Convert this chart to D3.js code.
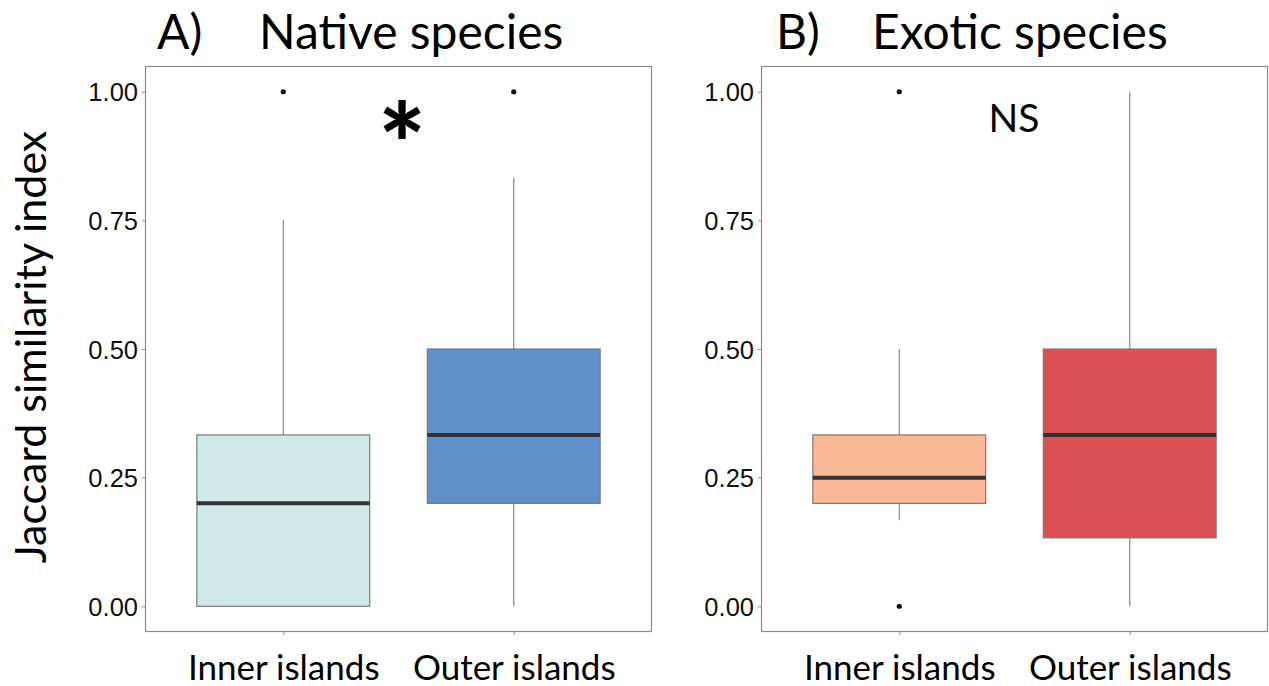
<!DOCTYPE html>
<html>
<head>
<meta charset="utf-8">
<script src="https://cdn.jsdelivr.net/npm/d3@7"></script>
<style>
  html, body { margin: 0; padding: 0; background: #fff; }
  svg { display: block; }
</style>
</head>
<body>
<svg id="chart" width="1269" height="686"></svg>
<script>
// ---- Data ----
const categories = ["Inner islands", "Outer islands"];
const yTicks = [0, 0.25, 0.5, 0.75, 1.0];
const yTickLabels = ["0.00", "0.25", "0.50", "0.75", "1.00"];

// Panel A: Native species
const nativeLowWhisker = [0, 0];
const nativeQ1 = [0, 0.2];
const nativeMedian = [0.2, 0.333];
const nativeQ3 = [0.333, 0.5];
const nativeHighWhisker = [0.75, 0.833];
const nativeOutliers = [[1.0], [1.0]];
const nativeColors = ["#d0e8e8", "#6090ca"];

// Panel B: Exotic species
const exoticLowWhisker = [0.167, 0];
const exoticQ1 = [0.2, 0.133];
const exoticMedian = [0.25, 0.333];
const exoticQ3 = [0.333, 0.5];
const exoticHighWhisker = [0.5, 1.0];
const exoticOutliers = [[0, 1.0], []];
const exoticColors = ["#fbb796", "#db5053"];

const panelLabels = ["A)", "B)"];
const panelTitles = ["Native species", "Exotic species"];
const annotations = ["*", "NS"];
const yTitle = "Jaccard similarity index";

// ---- Build ----
const svg = d3.select("#chart");
const plotTop = 66, plotBottom = 632;
const panels = [
  { left: 145, right: 652, lw: nativeLowWhisker, q1: nativeQ1, med: nativeMedian, q3: nativeQ3, hw: nativeHighWhisker, out: nativeOutliers, colors: nativeColors },
  { left: 761, right: 1268, lw: exoticLowWhisker, q1: exoticQ1, med: exoticMedian, q3: exoticQ3, hw: exoticHighWhisker, out: exoticOutliers, colors: exoticColors }
];

const y = d3.scaleLinear().domain([-0.05, 1.05]).range([plotBottom, plotTop]);
const txtFont = "Lato, 'Open Sans', sans-serif";
const tickFont = "'Liberation Sans', Arial, sans-serif";

panels.forEach((p, pi) => {
  const x = d3.scalePoint().domain(categories).range([p.left, p.right]).padding(0.6);
  const bw = x.step() * 0.75;
  const g = svg.append("g");

  g.append("rect").attr("x", p.left + 0.5).attr("y", plotTop + 0.5)
    .attr("width", p.right - p.left - 1).attr("height", plotBottom - plotTop - 1)
    .attr("fill", "#fff").attr("stroke", "#8a8a8a").attr("stroke-width", 1.2);

  const yAxis = d3.axisLeft(y).tickValues(yTicks).tickSize(3).tickPadding(4)
    .tickFormat((d, i) => yTickLabels[i]);
  const ya = g.append("g").attr("transform", `translate(${p.left},0)`).call(yAxis);
  ya.select(".domain").remove();
  ya.selectAll(".tick line").attr("stroke", "#8a8a8a");
  ya.selectAll(".tick text").attr("font-family", tickFont).attr("font-size", 25.5)
    .attr("fill", "#111").attr("dy", "0.36em");

  const xAxis = d3.axisBottom(x).tickSize(3).tickPadding(20);
  const xa = g.append("g").attr("transform", `translate(0,${plotBottom})`).call(xAxis);
  xa.select(".domain").remove();
  xa.selectAll(".tick line").attr("stroke", "#8a8a8a");
  xa.selectAll(".tick text").attr("font-family", txtFont).attr("font-size", 35)
    .attr("fill", "#000").attr("dy", "0.71em");

  categories.forEach((c, i) => {
    const cx = x(c);
    g.append("line").attr("x1", cx).attr("x2", cx)
      .attr("y1", y(p.q3[i])).attr("y2", y(p.hw[i]))
      .attr("stroke", "#8a8a8a").attr("stroke-width", 1.2);
    g.append("line").attr("x1", cx).attr("x2", cx)
      .attr("y1", y(p.q1[i])).attr("y2", y(p.lw[i]))
      .attr("stroke", "#8a8a8a").attr("stroke-width", 1.2);
    g.append("rect").attr("x", cx - bw / 2).attr("y", y(p.q3[i]))
      .attr("width", bw).attr("height", y(p.q1[i]) - y(p.q3[i]))
      .attr("fill", p.colors[i]).attr("stroke", "#7a7a7a").attr("stroke-width", 1.2);
    g.append("line").attr("x1", cx - bw / 2).attr("x2", cx + bw / 2)
      .attr("y1", y(p.med[i])).attr("y2", y(p.med[i]))
      .attr("stroke", "#333").attr("stroke-width", 4);
    p.out[i].forEach(v => {
      g.append("circle").attr("cx", cx).attr("cy", y(v)).attr("r", 2.6).attr("fill", "#111");
    });
  });

  svg.append("text").attr("x", p.left + 12 + pi * 3).attr("y", 49)
    .attr("font-family", txtFont).attr("font-size", 48).attr("fill", "#000")
    .text(panelLabels[pi]);
  svg.append("text").attr("x", p.left + 114 - pi * 3).attr("y", 49)
    .attr("font-family", txtFont).attr("font-size", 48).attr("fill", "#000")
    .text(panelTitles[pi]);
});

svg.append("text").attr("x", 402).attr("y", 186).attr("text-anchor", "middle")
  .attr("font-family", txtFont).attr("font-weight", 900).attr("font-size", 112)
  .attr("fill", "#000").text(annotations[0]);
svg.append("text").attr("x", 1014).attr("y", 132).attr("text-anchor", "middle")
  .attr("font-family", txtFont).attr("font-size", 39)
  .attr("fill", "#000").text(annotations[1]);

svg.append("text").attr("transform", "translate(46,347) rotate(-90)")
  .attr("text-anchor", "middle").attr("font-family", txtFont).attr("font-size", 43)
  .attr("fill", "#000").text(yTitle);
</script>
</body>
</html>
